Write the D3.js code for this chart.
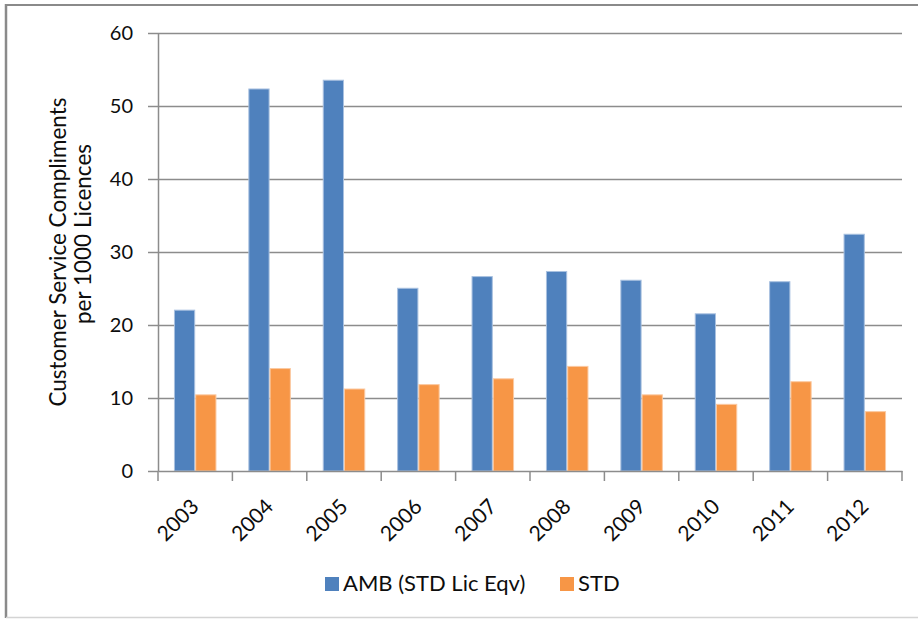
<!DOCTYPE html>
<html>
<head>
<meta charset="utf-8">
<script src="https://cdn.jsdelivr.net/npm/d3@7"></script>
<style>
  html, body { margin: 0; padding: 0; background: #fff; }
  svg { display: block; font-family: Lato, "Open Sans", sans-serif; }
</style>
</head>
<body>
<svg id="chart" width="918" height="619"></svg>
<script>
// ---- data ----
const years = ["2003","2004","2005","2006","2007","2008","2009","2010","2011","2012"];
const seriesNames = ["AMB (STD Lic Eqv)", "STD"];
const ambValues = [22.1, 52.4, 53.6, 25.1, 26.7, 27.4, 26.2, 21.6, 26.0, 32.5];
const stdValues = [10.5, 14.1, 11.3, 11.9, 12.7, 14.4, 10.5, 9.2, 12.3, 8.2];
const yTicks = [0, 10, 20, 30, 40, 50, 60];
const colors = ["#4F81BD", "#F79646"];
const edgeColors = ["#a9c1e0", "#fbc9a1"];
const yTitleLines = ["Customer Service Compliments", "per 1000 Licences"];

const svg = d3.select("#chart");
const plotLeft = 158, plotRight = 902, plotTop = 33, plotBottom = 471;
const textColor = "#0d0d0d";
const gridColor = "#8c8c8c";

// frame
svg.append("line").attr("x1", 5).attr("x2", 918).attr("y1", 5).attr("y2", 5)
  .attr("stroke", "#8a8a8a").attr("stroke-width", 2);
svg.append("line").attr("x1", 6).attr("x2", 6).attr("y1", 4).attr("y2", 618)
  .attr("stroke", "#8a8a8a").attr("stroke-width", 2.5);
svg.append("line").attr("x1", 6).attr("x2", 918).attr("y1", 617.5).attr("y2", 617.5)
  .attr("stroke", "#d4d4d4").attr("stroke-width", 1.5);

const x0 = d3.scaleBand().domain(years).range([plotLeft, plotRight]).paddingInner(0).paddingOuter(0);
const x1 = d3.scaleBand().domain(seriesNames).range([0, x0.bandwidth()]).paddingInner(0).paddingOuter(0.75);
const y = d3.scaleLinear().domain([0, 60]).range([plotBottom, plotTop]);

// gridlines
const grid = svg.append("g").attr("transform", `translate(${plotLeft},0)`)
  .call(d3.axisLeft(y).tickValues(yTicks.filter(t => t > 0)).tickSize(-(plotRight - plotLeft)).tickFormat(""));
grid.select(".domain").remove();
grid.selectAll("line").attr("stroke", gridColor).attr("stroke-width", 1.5);

// y axis
const yAxis = svg.append("g").attr("transform", `translate(${plotLeft},0)`)
  .call(d3.axisLeft(y).tickValues(yTicks).tickSize(10).tickPadding(15).tickSizeOuter(0));
yAxis.select(".domain").attr("stroke", gridColor).attr("stroke-width", 1.5);
yAxis.selectAll(".tick line").attr("stroke", gridColor).attr("stroke-width", 1.5);
yAxis.selectAll(".tick text").attr("fill", textColor).style("font-size", "20px")
  .style("font-family", "Lato, sans-serif");

// bars
const data = years.map((yr, i) => ({ year: yr, vals: [ambValues[i], stdValues[i]] }));
const groups = svg.append("g").selectAll("g").data(data).join("g")
  .attr("transform", d => `translate(${x0(d.year)},0)`);
groups.selectAll("rect").data(d => d.vals.map((v, k) => ({ k, v })))
  .join("rect")
  .attr("x", d => x1(seriesNames[d.k]) + 0.5)
  .attr("width", x1.bandwidth() - 1)
  .attr("y", d => y(d.v) + 0.5)
  .attr("height", d => y(0) - y(d.v) - 0.5)
  .attr("fill", d => colors[d.k])
  .attr("stroke", d => edgeColors[d.k])
  .attr("stroke-width", 1);

// x axis
const xAxis = svg.append("g").attr("transform", `translate(0,${plotBottom})`)
  .call(d3.axisBottom(x0).tickSize(0).tickSizeOuter(0));
xAxis.select(".domain").attr("stroke", gridColor).attr("stroke-width", 1.5);
xAxis.selectAll(".tick text")
  .attr("fill", textColor)
  .style("font-size", "21px")
  .style("font-family", "Lato, sans-serif")
  .attr("y", null).attr("dy", null)
  .attr("text-anchor", "end")
  .attr("transform", "translate(5,37) rotate(-45)");
// boundary ticks
const boundaries = years.map(d => x0(d)).concat([plotRight]);
svg.append("g").selectAll("line").data(boundaries).join("line")
  .attr("x1", d => d).attr("x2", d => d)
  .attr("y1", plotBottom).attr("y2", plotBottom + 10)
  .attr("stroke", gridColor).attr("stroke-width", 1.5);

// y title
const yTitle = svg.append("g");
const titleCenters = [[66, 252], [91, 234]];
yTitleLines.forEach((t, i) => {
  yTitle.append("text")
    .attr("transform", `translate(${titleCenters[i][0]},${titleCenters[i][1]}) rotate(-90)`)
    .attr("text-anchor", "middle")
    .attr("fill", textColor)
    .style("font-size", "22.5px")
    .text(t);
});

// legend
const legendItems = [
  { name: seriesNames[0], color: colors[0], sx: 325, tx: 343 },
  { name: seriesNames[1], color: colors[1], sx: 560, tx: 578 }
];
const lg = svg.append("g");
legendItems.forEach(it => {
  lg.append("rect").attr("x", it.sx).attr("y", 577).attr("width", 14).attr("height", 14).attr("fill", it.color);
  lg.append("text").attr("x", it.tx).attr("y", 591).attr("fill", textColor)
    .style("font-size", "22px").text(it.name);
});
</script>
</body>
</html>
